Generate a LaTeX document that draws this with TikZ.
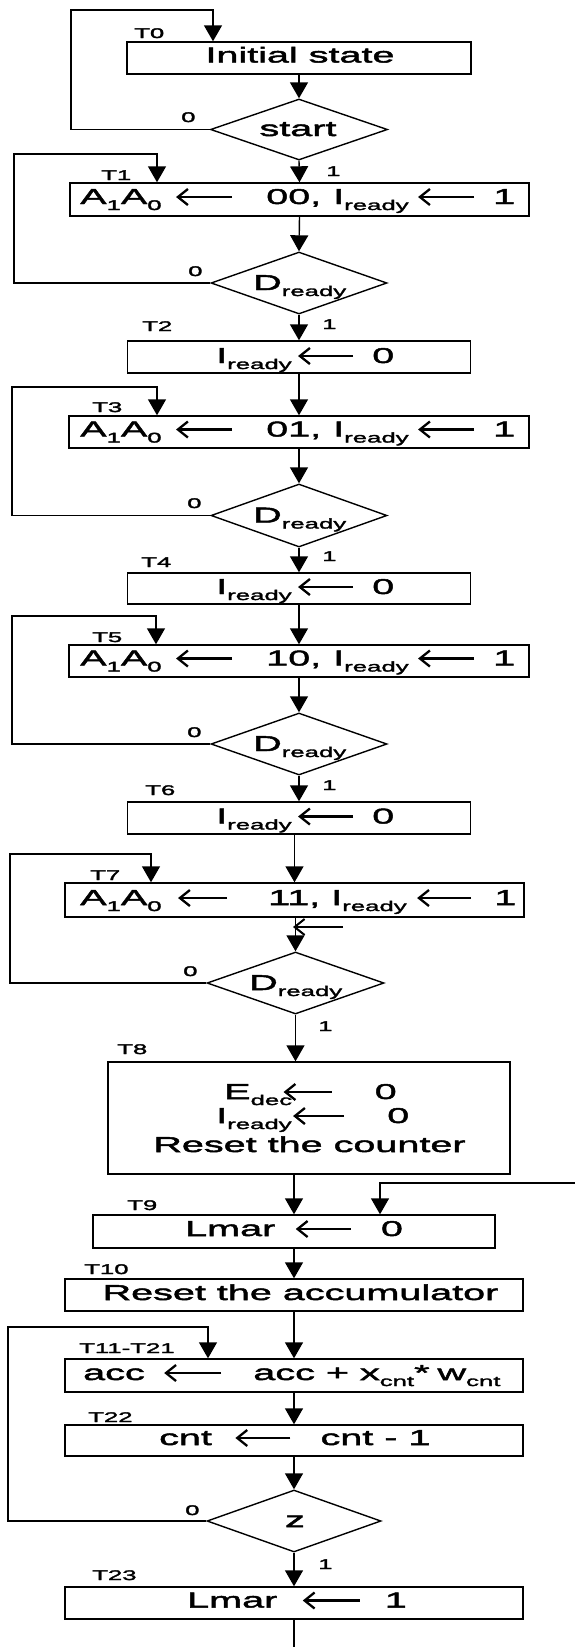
\documentclass[tikz,border=0pt]{standalone}
\usepackage{fontspec}
\setmainfont{Liberation Sans}[FakeStretch=1.9]
\newfontfamily\diafont{Liberation Sans}[FakeStretch=1.84, FakeBold=2.2]
\usetikzlibrary{arrows.meta,shapes.geometric}

% subscript and inline assignment arrow
\newcommand\sub[1]{\raisebox{-6pt}{\fontsize{14}{14}\selectfont #1}}
\newcommand\getsarrow[1]{\tikz[x=1pt,y=1pt,baseline=-7pt]\draw[line width=2.3pt,-{Straight Barb[length=10pt,width=16pt]}] (#1,0) -- (0,0);}

\tikzset{
  box/.style={draw, line width=1.4pt, inner sep=0pt, minimum width=#1},
  cond/.style={draw, shape=diamond, line width=1.4pt, inner sep=0pt},
  flow/.style={line width=1.4pt, -{Triangle[length=16pt,width=18pt]}},
  plain/.style={line width=1.4pt},
  txt/.style={inner sep=0pt, font=\diafont\fontsize{21.5}{24}\selectfont},
  lbl/.style={inner sep=0pt, anchor=base west, font=\diafont\fontsize{14}{14}\selectfont},
  zlbl/.style={inner sep=0pt, anchor=base west, font=\diafont\fontsize{14}{14}\selectfont},
}

\begin{document}
\begin{tikzpicture}[x=1pt,y=-1pt]
\useasboundingbox (0,0) rectangle (575,1647);
\fill[white] (0,0) rectangle (575,1647);

% ---- boxes and decisions ----
\node[box=344pt, minimum height=32pt] (T0) at (299,58) {};
\node[cond, minimum width=177pt, minimum height=61pt] (start) at (299,129.5) {};
\node[box=459pt, minimum height=33pt] (T1) at (299.5,199.5) {};
\node[cond, minimum width=176pt, minimum height=62pt] (D1) at (299,283) {};
\node[box=343pt, minimum height=32pt] (T2) at (299,357) {};
\node[box=460pt, minimum height=32pt] (T3) at (299,432) {};
\node[cond, minimum width=176pt, minimum height=63pt] (D2) at (299,515.5) {};
\node[box=343pt, minimum height=31pt] (T4) at (299,588.5) {};
\node[box=460pt, minimum height=32pt] (T5) at (299,661) {};
\node[cond, minimum width=176pt, minimum height=62pt] (D3) at (299,744) {};
\node[box=343pt, minimum height=32pt] (T6) at (299,818) {};
\node[box=459pt, minimum height=34pt] (T7) at (294.5,900) {};
\node[cond, minimum width=177pt, minimum height=62pt] (D4) at (295.5,983) {};
\node[box=402pt, minimum height=112pt] (T8) at (309,1118) {};
\node[box=402pt, minimum height=33pt] (T9) at (294,1231.5) {};
\node[box=458pt, minimum height=32pt] (T10) at (294,1295) {};
\node[box=458pt, minimum height=33pt] (T11) at (294,1375.5) {};
\node[box=458pt, minimum height=31pt] (T22) at (294,1440.5) {};
\node[cond, minimum width=174pt, minimum height=62pt] (Z) at (294,1521) {};
\node[box=458pt, minimum height=32pt] (T23) at (294,1603) {};

% ---- texts inside ----
\node[txt, anchor=base] (T0t) at (300,62.5) {Initial state};
\node[txt, anchor=base] (startt) at (298,136) {start};
\node[txt, anchor=base west] (T1t) at (80,204) {A\sub{1}A\sub{0}\hspace{13pt}\getsarrow{56}\hspace{33pt}00,\hspace{12pt}I\sub{ready}\hspace{8pt}\getsarrow{56}\hspace{18pt}1};
\node[txt, anchor=base west] (D1t) at (253,290) {D\sub{ready}};
\node[txt, anchor=base west] (T2t) at (216,363) {I\sub{ready}\hspace{5pt}\getsarrow{55}\hspace{18pt}0};
\node[txt, anchor=base west] (T3t) at (80,436.5) {A\sub{1}A\sub{0}\hspace{13pt}\getsarrow{56}\hspace{33pt}01,\hspace{12pt}I\sub{ready}\hspace{8pt}\getsarrow{56}\hspace{18pt}1};
\node[txt, anchor=base west] (D2t) at (253,522.5) {D\sub{ready}};
\node[txt, anchor=base west] (T4t) at (216,594) {I\sub{ready}\hspace{5pt}\getsarrow{55}\hspace{18pt}0};
\node[txt, anchor=base west] (T5t) at (80,665.5) {A\sub{1}A\sub{0}\hspace{13pt}\getsarrow{56}\hspace{33pt}10,\hspace{12pt}I\sub{ready}\hspace{8pt}\getsarrow{56}\hspace{18pt}1};
\node[txt, anchor=base west] (D3t) at (253,751) {D\sub{ready}};
\node[txt, anchor=base west] (T6t) at (216,823.5) {I\sub{ready}\hspace{5pt}\getsarrow{55}\hspace{18pt}0};
\node[txt, anchor=base west] (T7t) at (80,905) {A\sub{1}A\sub{0}\hspace{15pt}\getsarrow{49}\hspace{40pt}11,\hspace{11pt}I\sub{ready}\hspace{9pt}\getsarrow{54}\hspace{22pt}1};
\node[txt, anchor=base west] (D4t) at (249,990) {D\sub{ready}};
\node[txt, anchor=base west] (T8a) at (224,1099) {E\sub{dec}\hspace{-10pt}\getsarrow{48}\hspace{42pt}0};
\node[txt, anchor=base west] (T8b) at (216,1123) {I\sub{ready}\getsarrow{51}\hspace{42pt}0};
\node[txt, anchor=base] (T8c) at (309.5,1152) {Reset the counter};
\node[txt, anchor=base west] (T9t) at (185,1236) {Lmar\hspace{19pt}\getsarrow{55}\hspace{29pt}0};
\node[txt, anchor=base] (T10t) at (300.5,1300) {Reset the accumulator};
\node[txt, anchor=base west] (T11t) at (83,1380) {acc\hspace{18pt}\getsarrow{57}\hspace{31pt}acc + x\sub{cnt}*\hspace{8pt}w\sub{cnt}};
\node[txt, anchor=base west] (T22t) at (159,1445) {cnt\hspace{22pt}\getsarrow{55}\hspace{29pt}cnt - 1};
\node[txt, anchor=base] (Zt) at (295,1527) {z};
\node[txt, anchor=base west] (T23t) at (187,1607.5) {Lmar\hspace{24pt}\getsarrow{57}\hspace{24pt}1};

% ---- step labels ----
\node[lbl] (lT0) at (134,38) {T0};
\node[lbl] (lT1) at (101,180) {T1};
\node[lbl] (lT2) at (142,331) {T2};
\node[lbl] (lT3) at (92,412) {T3};
\node[lbl] (lT4) at (141,567) {T4};
\node[lbl] (lT5) at (92,642) {T5};
\node[lbl] (lT6) at (145,795) {T6};
\node[lbl] (lT7) at (90,880) {T7};
\node[lbl] (lT8) at (117,1054) {T8};
\node[lbl] (lT9) at (127,1210) {T9};
\node[lbl] (lT10) at (84,1274) {T10};
\node[lbl] (lT11) at (79,1353) {T11-T21};
\node[lbl] (lT22) at (88,1422) {T22};
\node[lbl] (lT23) at (92,1580) {T23};

% ---- branch labels ----
\node[zlbl] (n0) at (181,122) {0};
\node[zlbl] (n1) at (188,276) {0};
\node[zlbl] (n2) at (187,508) {0};
\node[zlbl] (n3) at (187,737) {0};
\node[zlbl] (n4) at (183,976) {0};
\node[zlbl] (n5) at (185,1515) {0};
\node[lbl] (y0) at (326,176) {1};
\node[lbl] (y1) at (322,329) {1};
\node[lbl] (y2) at (322,561) {1};
\node[lbl] (y3) at (322,790) {1};
\node[lbl] (y4) at (318,1031) {1};
\node[lbl] (y5) at (318,1569) {1};

% ---- loop corners and free ends ----
\coordinate (k0) at (71,10);
\coordinate (k1) at (14,154);
\coordinate (k2) at (12,387);
\coordinate (k3) at (12,616);
\coordinate (k4) at (10,854);
\coordinate (k5) at (8,1327);
\coordinate (rin) at (575,1183);
\coordinate (tail) at (294,1647);
\coordinate (g1) at (343,927);
\coordinate (g2) at (293,927);

% ---- main flow ----
\draw[flow] (T0.south) -- (start.north);
\draw[flow] (start.south) -- (T1.north);
\draw[flow] (T1.south) -- (D1.north);
\draw[flow] (D1.south) -- (T2.north);
\draw[flow] (T2.south) -- (T3.north);
\draw[flow] (T3.south) -- (D2.north);
\draw[flow] (D2.south) -- (T4.north);
\draw[flow] (T4.south) -- (T5.north);
\draw[flow] (T5.south) -- (D3.north);
\draw[flow] (D3.south) -- (T6.north);
\draw[flow] (T7.north |- T6.south) -- (T7.north);
\draw[flow] (D4.north |- T7.south) -- (D4.north);
\draw[flow] (D4.south) -- (D4.south |- T8.north);
\draw[flow] (T9.north |- T8.south) -- (T9.north);
\draw[flow] (T9.south) -- (T10.north);
\draw[flow] (T10.south) -- (T11.north);
\draw[flow] (T11.south) -- (T22.north);
\draw[flow] (T22.south) -- (Z.north);
\draw[flow] (Z.south) -- (T23.north);
\draw[plain] (T23.south) -- (tail);

% ---- wait loops (branch 0) ----
\draw[flow] (start.west) -| (k0) -| ([xshift=-86pt]T0.north);
\draw[flow] (D1.west) -| (k1) -| ([xshift=-142.5pt]T1.north);
\draw[flow] (D2.west) -| (k2) -| ([xshift=-142pt]T3.north);
\draw[flow] (D3.west) -| (k3) -| ([xshift=-143pt]T5.north);
\draw[flow] (D4.west) -| (k4) -| ([xshift=-143.5pt]T7.north);
\draw[flow] (Z.west) -| (k5) -| ([xshift=-86pt]T11.north);

% ---- return path into T9 ----
\draw[flow] (rin) -| ([xshift=86pt]T9.north);

% stray assignment arrow below T7
\draw[line width=2pt,-{Straight Barb[length=10pt,width=16pt]}] (g1) -- (g2);
\end{tikzpicture}
\end{document}
